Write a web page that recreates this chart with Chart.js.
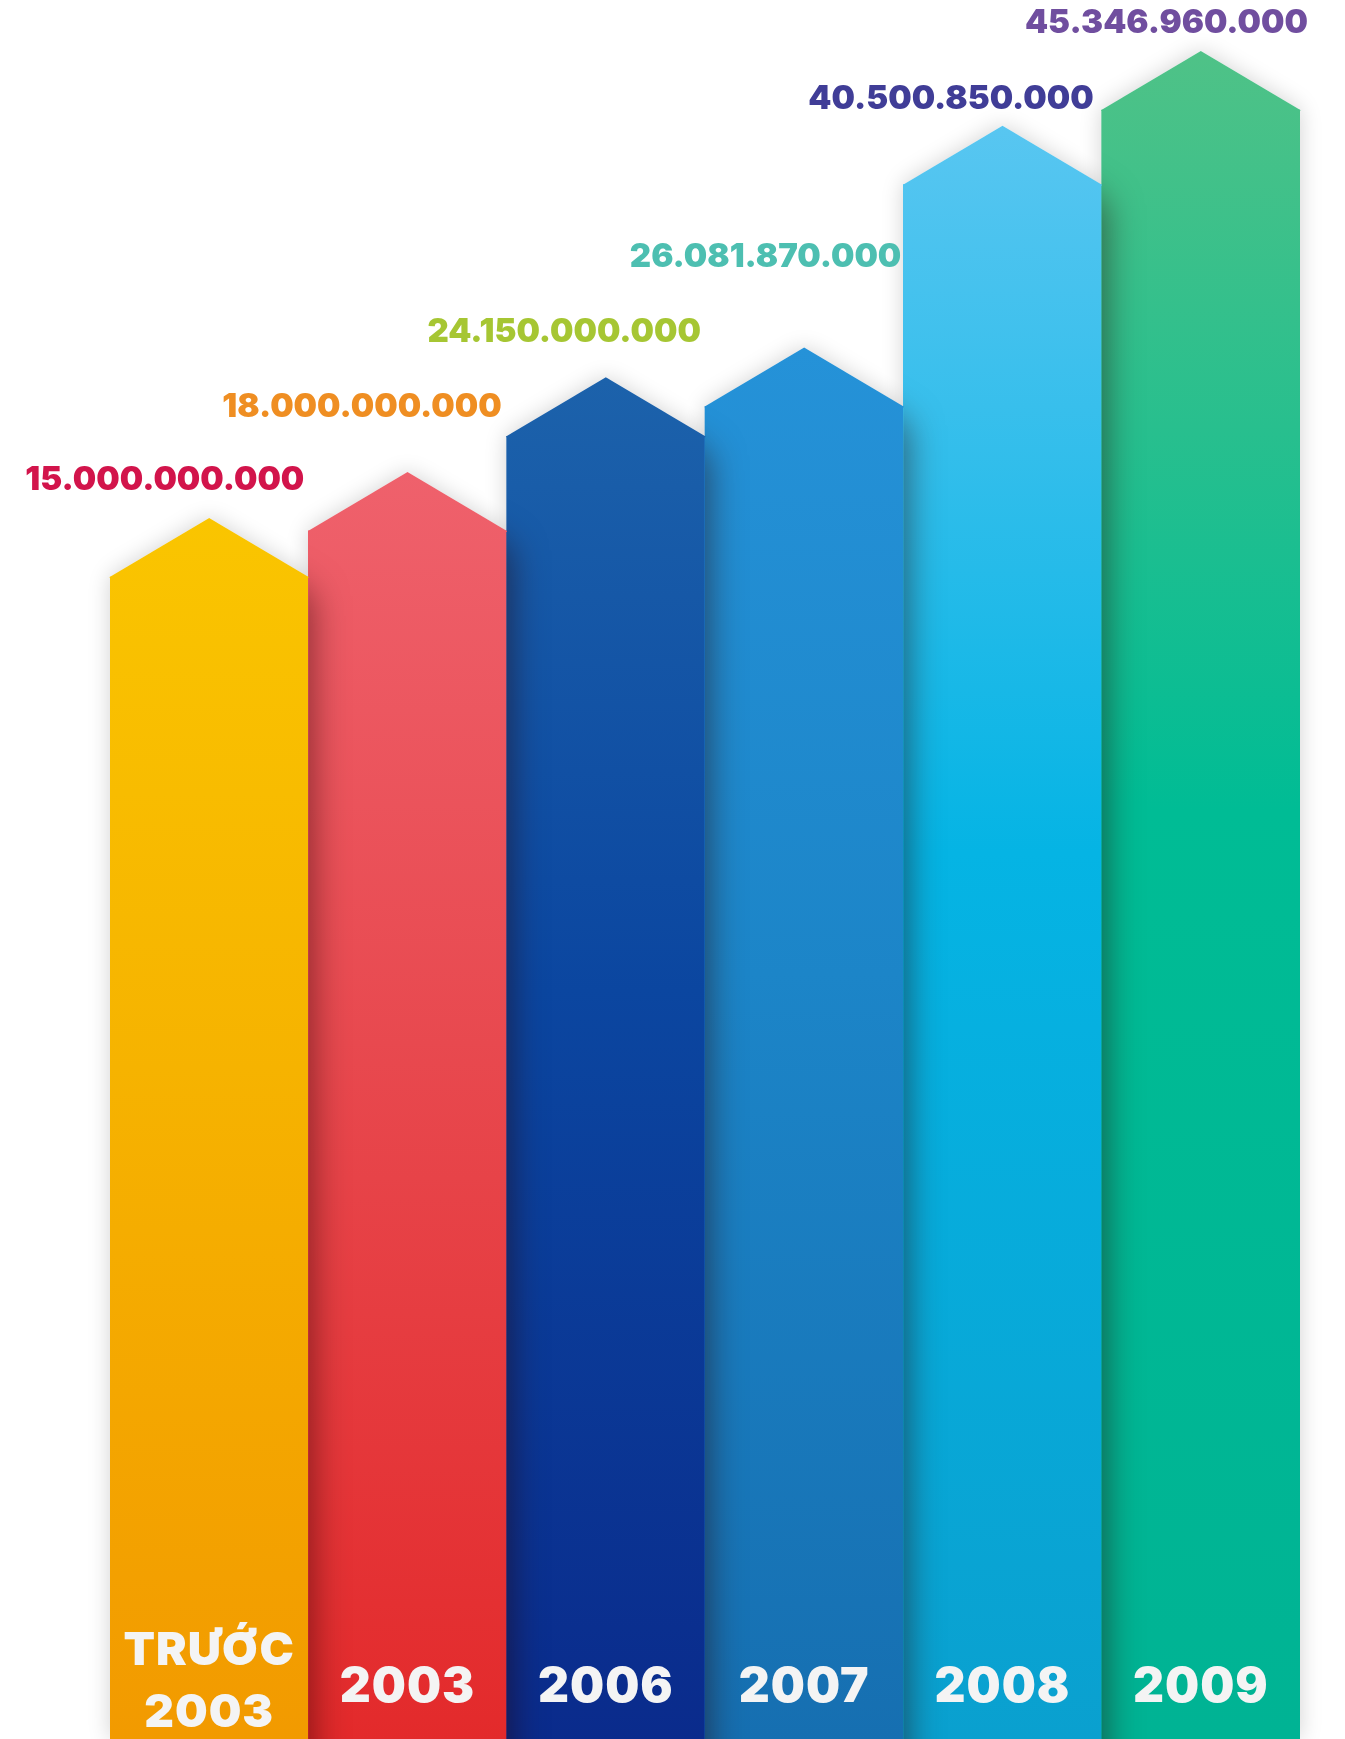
<!DOCTYPE html>
<html>
<head>
<meta charset="utf-8">
<script src="https://cdn.jsdelivr.net/npm/chart.js@4.4.1/dist/chart.umd.min.js"></script>
<style>
  html, body { margin: 0; padding: 0; background: #ffffff; }
  #wrap { width: 1345px; height: 1739px; position: relative; }
  canvas { display: block; }
</style>
</head>
<body>
<div id="wrap"><canvas id="c" width="1345" height="1739"></canvas></div>
<script>
// ---- data ----
const categories = ["TRƯỚC 2003", "2003", "2006", "2007", "2008", "2009"];
const values = [15000000000, 18000000000, 24150000000, 26081870000, 40500850000, 45346960000];

// ---- styles (kept apart from data) ----
const barTop    = ["#fac500", "#ef616c", "#1c62ab", "#2592d8", "#58c6f1", "#4fc287"];
const barMid    = ["#f6b300", "#e8494f", "#0b46a0", "#1c85c8", "#05b4e4", "#00bc95"];
const barBottom = ["#f29a00", "#e32a2b", "#0a2b8c", "#166fb1", "#0aa0cf", "#00b394"];
const labelColors = ["#d2144b", "#ef8e22", "#a6c633", "#4dbfb1", "#403d97", "#704e9f"];
const labelLift = [38, 65, 45, 90, 27, 28];   // px above arrow tip
const labelShift = [-4, -5, -4, -2, -8, 8];   // px from bar right edge
const ARROW = 59;
const Y_MIN = -60500000000;
const Y_MAX = 52500000000;

function fmt(v) {
  return String(v).replace(/\B(?=(\d{3})+(?!\d))/g, ".");
}

function barShape(ctx, left, right, x, y, bottom) {
  ctx.beginPath();
  ctx.moveTo(left, bottom);
  ctx.lineTo(left, y);
  ctx.lineTo(x, y - ARROW);
  ctx.lineTo(right, y);
  ctx.lineTo(right, bottom);
  ctx.closePath();
}

const arrowPlugin = {
  id: "arrowBars",
  beforeDatasetsDraw(chart) {
    const ctx = chart.ctx;
    const meta = chart.getDatasetMeta(0);
    ctx.save();
    ctx.shadowColor = "rgba(0,0,0,0.18)";
    ctx.shadowBlur = 22;
    ctx.fillStyle = "#ffffff";
    meta.data.forEach((bar) => {
      const p = bar.getProps(["x", "y", "width", "base"], true);
      barShape(ctx, p.x - p.width / 2, p.x + p.width / 2, p.x, p.y, p.base);
      ctx.fill();
    });
    ctx.restore();
  },
  afterDatasetsDraw(chart) {
    const ctx = chart.ctx;
    const meta = chart.getDatasetMeta(0);
    const props = meta.data.map((bar) => bar.getProps(["x", "y", "width", "base"], true));

    // arrow heads
    meta.data.forEach((bar, i) => {
      const p = props[i];
      const left = p.x - p.width / 2, right = p.x + p.width / 2;
      ctx.save();
      ctx.fillStyle = bar.options.backgroundColor;
      ctx.beginPath();
      ctx.moveTo(left - 0.3, p.y + 1);
      ctx.lineTo(left - 0.3, p.y);
      ctx.lineTo(p.x, p.y - ARROW);
      ctx.lineTo(right + 0.3, p.y);
      ctx.lineTo(right + 0.3, p.y + 1);
      ctx.closePath();
      ctx.fill();
      ctx.restore();
    });

    // shadow cast by each bar onto the next one
    for (let i = 1; i < props.length; i++) {
      const p = props[i], q = props[i - 1];
      ctx.save();
      barShape(ctx, p.x - p.width / 2, p.x + p.width / 2 + 1, p.x, p.y, p.base);
      ctx.clip();
      const OFF = 10000;
      ctx.shadowColor = "rgba(40,0,0,0.5)";
      ctx.shadowBlur = 34;
      ctx.shadowOffsetX = OFF + 4;
      ctx.shadowOffsetY = 20;
      ctx.fillStyle = "#000";
      barShape(ctx, q.x - q.width / 2 - OFF, q.x + q.width / 2 - OFF, q.x - OFF, q.y, q.base + 100);
      ctx.fill();
      ctx.restore();
    }

    // value labels
    ctx.save();
    ctx.font = "900 33px Inter, 'DejaVu Sans', sans-serif";
    ctx.letterSpacing = "0px";
    ctx.textAlign = "right";
    ctx.textBaseline = "middle";
    props.forEach((p, i) => {
      ctx.fillStyle = labelColors[i];
      const xr = p.x + p.width / 2 + labelShift[i];
      ctx.fillText(fmt(values[i]), xr, p.y - ARROW - labelLift[i]);
    });
    ctx.restore();

    // category labels inside bars
    ctx.save();
    ctx.fillStyle = "#f4f4f4";
    ctx.textAlign = "center";
    ctx.textBaseline = "alphabetic";
    ctx.letterSpacing = "1px";
    const bottom = chart.chartArea.bottom;
    props.forEach((p, i) => {
      const words = String(chart.data.labels[i]).split(" ");
      if (words.length > 1) {
        ctx.font = "900 46px Inter, 'DejaVu Sans', sans-serif";
        ctx.fillText(words[0], p.x, bottom - 74);
        ctx.fillText(words.slice(1).join(" "), p.x, bottom - 12);
      } else {
        ctx.font = "900 48px Inter, 'DejaVu Sans', sans-serif";
        ctx.fillText(words[0], p.x, bottom - 37);
      }
    });
    ctx.restore();
  }
};

new Chart(document.getElementById("c"), {
  type: "bar",
  data: {
    labels: categories,
    datasets: [{
      data: values,
      base: Y_MIN,
      borderWidth: 0,
      borderSkipped: false,
      backgroundColor: (c) => {
        const i = c.dataIndex;
        const chart = c.chart;
        const area = chart.chartArea;
        if (!area || i === undefined || !chart.scales.y) return barMid[i] || "#ccc";
        const yTop = chart.scales.y.getPixelForValue(values[i]) - ARROW;
        const g = chart.ctx.createLinearGradient(0, yTop, 0, area.bottom);
        g.addColorStop(0, barTop[i]);
        g.addColorStop(0.45, barMid[i]);
        g.addColorStop(1, barBottom[i]);
        return g;
      },
      barPercentage: 1,
      categoryPercentage: 1
    }]
  },
  options: {
    responsive: false,
    devicePixelRatio: 1,
    animation: false,
    layout: { padding: { left: 110, right: 45, top: 0, bottom: 0 } },
    plugins: { legend: { display: false }, tooltip: { enabled: false } },
    scales: {
      x: { display: false, grid: { display: false } },
      y: { display: false, min: Y_MIN, max: Y_MAX, grid: { display: false } }
    }
  },
  plugins: [arrowPlugin]
});
</script>
</body>
</html>
